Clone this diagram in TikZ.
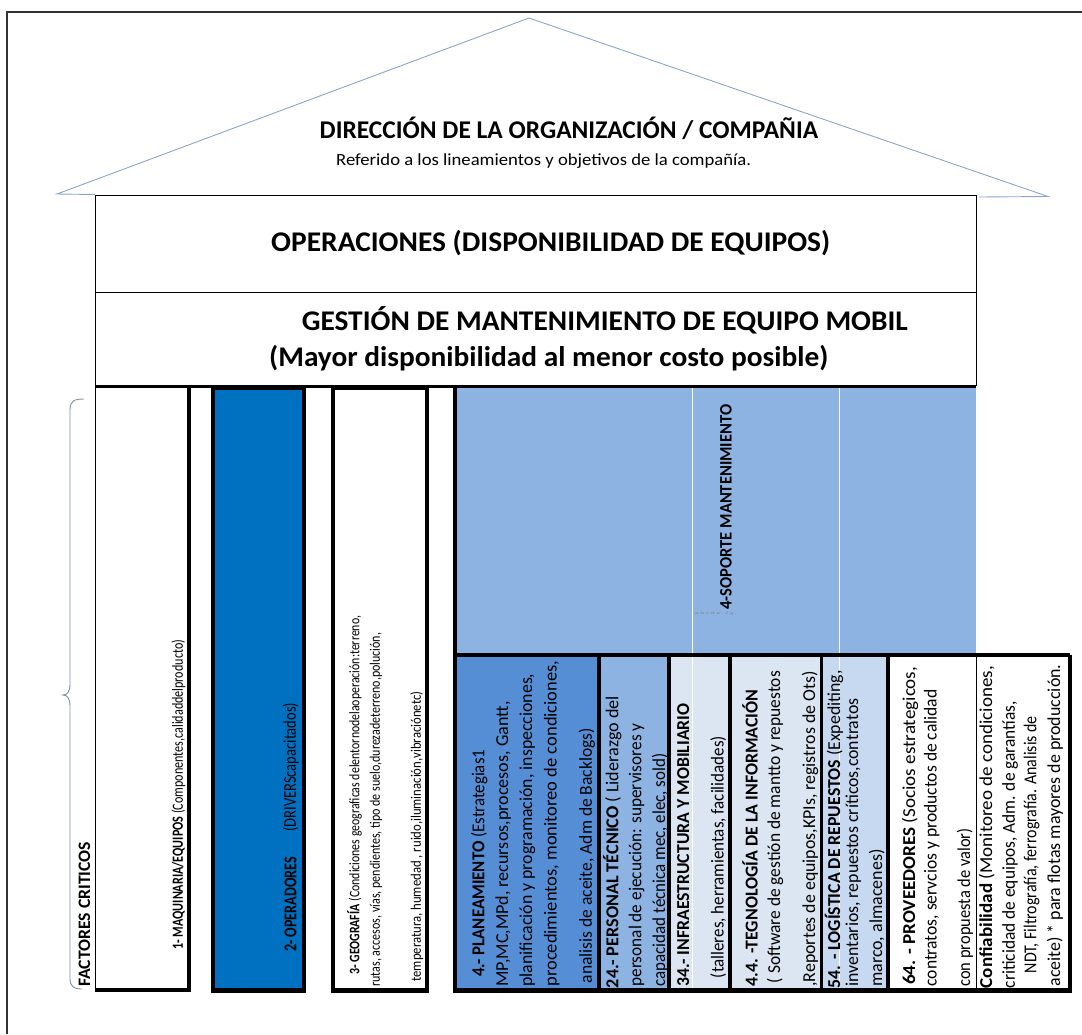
\documentclass[tikz,border=0pt]{standalone}
\usepackage{fontspec}
\usepackage{graphicx}
\setmainfont{Carlito}
\definecolor{opblue}{RGB}{0,112,192}
\definecolor{supblue}{RGB}{141,179,226}
\definecolor{planblue}{RGB}{85,142,213}
\definecolor{palest}{RGB}{220,230,242}
\definecolor{logblue}{RGB}{198,217,241}
\definecolor{roofc}{RGB}{140,165,200}
\definecolor{bracec}{RGB}{125,145,170}
\definecolor{framec}{RGB}{50,50,50}
\newcommand\fw[2]{\resizebox{#1pt}{\height}{#2}}
\tikzset{
  htxt/.style={inner sep=0pt, anchor=base west},
  vtxt/.style={inner sep=0pt, rotate=90, anchor=west, font=\fontsize{18.2}{21}\selectfont},
  thickb/.style={line width=3.2pt, black},
  thinb/.style={line width=0.9pt, black},
}
\begin{document}
\begin{tikzpicture}[x=1pt,y=-1pt]
\useasboundingbox (0,0) rectangle (1082,1034);
% page frame
\draw[framec, line width=1.1pt] (7,1034) -- (7,12) -- (1082,12);
% roof
\draw[roofc, line width=0.9pt] (95,194.5) -- (57,194) -- (529,18) -- (1048,196.5) -- (979,197);
% building body
\draw[thinb] (95,195) -- (976,195);
\draw[thinb] (95,195) -- (95,990);
\draw[thinb] (976,195) -- (976,386);
\draw[thinb] (95,292) -- (976,292);
% support area fills
\fill[supblue] (455,386) rectangle (976,655);
\fill[planblue] (455,655) rectangle (599,991);
\fill[supblue] (599,655) rectangle (669,991);
\fill[palest] (669,655) rectangle (821.7,991);
\fill[logblue] (821.7,655) rectangle (888,991);
\fill[white] (888,655) rectangle (1070,991);
\draw[white, line width=1.3pt] (692.7,386) -- (692.7,994);
\draw[white, line width=1.3pt] (839.5,386) -- (839.5,992);
% operator column
\fill[opblue] (213,386) rectangle (304,991);
% thick borders
\draw[line width=3.6pt] (95,386.5) -- (976,386.5);
\draw[thickb] (189,386) -- (189,991);
\draw[line width=4.5pt] (95,990) -- (191,990);
\draw[thickb] (213,388) rectangle (304,990);
\draw[line width=4.5pt] (211.4,990.5) -- (305.6,990.5);
\draw[thickb] (333,388) rectangle (427,990);
\draw[line width=4.5pt] (331.4,990.5) -- (428.6,990.5);
\draw[thickb] (455,386) -- (455,991);
\draw[thickb] (455,655) -- (1070,655);
\draw[line width=4.5pt] (453.4,990.5) -- (1071.6,990.5);
\draw[thickb] (599,655) -- (599,990);
\draw[thickb] (669,655) -- (669,990);
\draw[thickb] (730,655) -- (730,990);
\draw[thickb] (821.7,655) -- (821.7,990);
\draw[thickb] (888,655) -- (888,990);
\draw[thickb] (1070,655) -- (1070,992);
\draw[thinb] (976,655) -- (976,990);
% brace
\draw[bracec, line width=0.9pt] (84,399) .. controls (74,399) and (70,401) .. (70,410) -- (70,684) .. controls (70,692) and (67,695) .. (63,695) .. controls (67,695) and (70,698) .. (70,706) -- (70,978) .. controls (70,987) and (74,989) .. (82,989);
% top texts
\node[htxt, font=\bfseries\fontsize{25.5}{30}\selectfont] (dir) at (319.5,138.5) {\fw{498.5}{DIRECCIÓN DE LA ORGANIZACIÓN / COMPAÑIA}};
\node[htxt, font=\fontsize{17}{20}\selectfont] (ref) at (336,165) {\fw{415}{Referido a los lineamientos y objetivos de la compañía.}};
\node[htxt, font=\bfseries\fontsize{28.5}{32}\selectfont] (ops) at (271,251.5) {\fw{559}{OPERACIONES (DISPONIBILIDAD DE EQUIPOS)}};
\node[htxt, font=\bfseries\fontsize{28.5}{32}\selectfont] (gest) at (301.6,330) {\fw{606}{GESTIÓN DE MANTENIMIENTO DE EQUIPO MOBIL}};
\node[htxt, font=\bfseries\fontsize{28.5}{32}\selectfont] (mayor) at (269,366.7) {\fw{559}{(Mayor disponibilidad al menor costo posible)}};
% vertical texts
\node[vtxt, font=\bfseries\fontsize{17.5}{20}\selectfont] (fact) at (84.5,987) {\fw{145}{FACTORES CRITICOS}};
\node[vtxt, font=\fontsize{15.5}{18}\selectfont] (maq) at (178.5,950) {\fw{310}{\textbf{1- MAQUINARIA/EQUIPOS} (Componentes,calidaddelproducto)}};
\node[vtxt, font=\bfseries\fontsize{18}{20}\selectfont] (opa) at (290.5,952) {\fw{95}{2- OPERADORES}};
\node[vtxt, font=\fontsize{18}{20}\selectfont] (opb) at (290.7,832) {\fw{129}{(DRIVERScapacitados)}};
\node[vtxt, font=\fontsize{14.5}{17}\selectfont] (geo1) at (354.5,975) {\fw{359}{\textbf{3- GEOGRAFÍA} (Condiciones geograficas delentornodelaoperación:terreno,}};
\node[vtxt, font=\fontsize{14.5}{17}\selectfont] (geo2) at (376,987) {\fw{354}{rutas, accesos, vías, pendientes, tipo de suelo,durezadeterreno,polución,}};
\node[vtxt, font=\fontsize{14.5}{17}\selectfont] (geo3) at (416.7,981.7) {\fw{290}{temperatura, humedad , ruido,iluminación,vibraciónetc)}};
\node[vtxt, font=\bfseries\fontsize{17.5}{20}\selectfont] (sop) at (726,610) {\fw{205}{4-SOPORTE MANTENIMIENTO}};
\node[inner sep=0pt, anchor=west, text=gray, font=\fontsize{3.5}{4}\selectfont] (tiny) at (695,614) {\fw{42}{a b c d e . f g .}};
% planeamiento
\node[vtxt] (pl1) at (479.3,977) {\fw{227}{\textbf{4.- PLANEAMIENTO} (Estrategias1}};
\node[vtxt] (pl2) at (503.3,986.7) {\fw{285}{MP,MC,MPd, recursos,procesos, Gantt,}};
\node[vtxt] (pl3) at (527.3,986.7) {\fw{313}{planificación y programación, inspecciones,}};
\node[vtxt] (pl4) at (551.7,986.7) {\fw{326}{procedimientos, monitoreo de condiciones,}};
\node[vtxt] (pl5) at (586.7,983.3) {\fw{255}{analisis de aceite, Adm de Backlogs)}};
% personal
\node[vtxt] (pt1) at (612.3,988.3) {\fw{292}{\textbf{24.- PERSONAL TÉCNICO} ( Liderazgo del}};
\node[vtxt] (pt2) at (636.7,986.7) {\fw{263}{personal de ejecución: supervisores y}};
\node[vtxt] (pt3) at (660,986.7) {\fw{233}{capacidad técnica mec, elec, sold)}};
% infraestructura
\node[vtxt] (in1) at (683.3,986.7) {\fw{283}{\textbf{34.- INFRAESTRUCTURA Y MOBILIARIO}}};
\node[vtxt] (in2) at (718.3,978.3) {\fw{242}{(talleres, herramientas, facilidades)}};
% tecnologia
\node[vtxt] (te1) at (750,986.7) {\fw{297}{\textbf{4.4. -TEGNOLOGÍA DE LA INFORMACIÓN}}};
\node[vtxt] (te2) at (775,983.3) {\fw{312}{( Software de gestión de mantto y repuestos}};
\node[vtxt] (te3) at (810,986.7) {\fw{315}{,Reportes de equipos,KPIs, registros de Ots)}};
% logistica
\node[vtxt] (lo1) at (834,988.3) {\fw{318}{\textbf{54. - LOGÍSTICA DE REPUESTOS} (Expediting,}};
\node[vtxt] (lo2) at (853.3,986.7) {\fw{288}{inventarios, repuestos críticos,contratos}};
\node[vtxt] (lo3) at (876.7,986.7) {\fw{137}{marco, almacenes)}};
% proveedores
\node[vtxt] (pr1) at (910,985) {\fw{318}{\textbf{64. - PROVEEDORES} (Socios estrategicos,}};
\node[vtxt] (pr2) at (931.7,986.7) {\fw{297}{contratos, servcios y productos de calidad}};
\node[vtxt] (pr3) at (965,986.7) {\fw{158}{con propuesta de valor)}};
% confiabilidad
\node[vtxt] (co1) at (986.7,988.3) {\fw{322}{\textbf{Confiabilidad} (Monitoreo de condiciones,}};
\node[vtxt] (co2) at (1010,988.3) {\fw{287}{criticidad de equipos, Adm. de garantías,}};
\node[vtxt] (co3) at (1031.7,973.3) {\fw{257}{NDT, Filtrografía, ferrografía. Analisis de}};
\node[vtxt] (co4) at (1055,986.7) {\fw{322}{aceite) * para flotas mayores de producción.}};
\end{tikzpicture}
\end{document}
